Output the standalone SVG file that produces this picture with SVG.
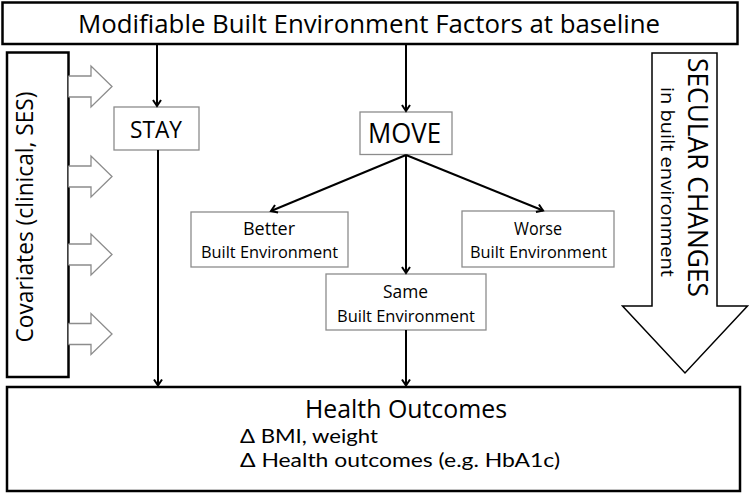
<svg xmlns="http://www.w3.org/2000/svg" width="750" height="494" viewBox="0 0 750 494">
<defs>
<style>
text{font-family:"Open Sans","Noto Sans","DejaVu Sans",sans-serif;fill:#000}
text.lato{font-family:Lato,"Open Sans",sans-serif}
.bold-box{fill:#fff;stroke:#000;stroke-width:2.5}
.gray-box{fill:#fff;stroke:#8c8c8c;stroke-width:1.3}
.conn{stroke:#000;stroke-width:2;fill:none;marker-end:url(#ah)}
.garrow{fill:#fff;stroke:#8c8c8c;stroke-width:1.3}
.mid{text-anchor:middle}
</style>
<marker id="ah" markerUnits="userSpaceOnUse" markerWidth="14" markerHeight="12" viewBox="-8 -6 10 12" refX="0" refY="0" orient="auto">
<path d="M-6,-4 L0,0 L-6,4" fill="none" stroke="#000" stroke-width="2"/>
</marker>
</defs>
<rect width="750" height="494" fill="#fff"/>

<g id="top">
<rect class="bold-box" x="2.5" y="2.5" width="735" height="41.5"/>
<text class="mid" x="369" y="33" font-size="26" textLength="582" lengthAdjust="spacingAndGlyphs">Modifiable Built Environment Factors at baseline</text>
</g>

<g id="covariates">
<rect class="bold-box" x="7" y="52.5" width="61.5" height="324.5" stroke-width="2"/>
<text class="mid" transform="translate(33,217) rotate(-90)" font-size="23" textLength="251" lengthAdjust="spacingAndGlyphs">Covariates (clinical, SES)</text>
<path class="garrow" d="M68.5,76 H91 V66 L112,86.5 L91,107 V97 H68.5"/>
<path class="garrow" d="M68.5,166 H91 V156 L112,176.5 L91,197 V187 H68.5"/>
<path class="garrow" d="M68.5,244 H91 V234 L112,254.5 L91,275 V265 H68.5"/>
<path class="garrow" d="M68.5,323.5 H91 V313.5 L112,334 L91,354.5 V344.5 H68.5"/>
</g>

<g id="secular">
<path d="M652,53 H717 V306 H747.5 L685,373 L622.5,306 H652 Z" fill="#fff" stroke="#000" stroke-width="1.5"/>
<text class="mid" transform="translate(688,177.5) rotate(90)" font-size="28" textLength="239" lengthAdjust="spacingAndGlyphs">SECULAR CHANGES</text>
<text class="mid" transform="translate(661,182) rotate(90)" font-size="19" textLength="190" lengthAdjust="spacingAndGlyphs">in built environment</text>
</g>

<g id="stay">
<rect class="gray-box" x="114" y="107" width="85" height="43"/>
<text class="mid" x="156" y="138" font-size="24" textLength="52" lengthAdjust="spacingAndGlyphs">STAY</text>
</g>

<g id="move">
<rect class="gray-box" x="360" y="112" width="92" height="42.5"/>
<text class="mid" x="404.5" y="143" font-size="27" textLength="73" lengthAdjust="spacingAndGlyphs">MOVE</text>
</g>

<g id="better">
<rect class="gray-box" x="191" y="212" width="157" height="55"/>
<text class="mid" x="269" y="235" font-size="19" textLength="52" lengthAdjust="spacingAndGlyphs">Better</text>
<text class="mid" x="269.5" y="258" font-size="17" textLength="137" lengthAdjust="spacingAndGlyphs">Built Environment</text>
</g>

<g id="worse">
<rect class="gray-box" x="462" y="211" width="152" height="56"/>
<text class="mid" x="538" y="235" font-size="19" textLength="48" lengthAdjust="spacingAndGlyphs">Worse</text>
<text class="mid" x="538.5" y="258" font-size="17" textLength="137" lengthAdjust="spacingAndGlyphs">Built Environment</text>
</g>

<g id="same">
<rect class="gray-box" x="326" y="274" width="160" height="56"/>
<text class="mid" x="405.5" y="298" font-size="19" textLength="45" lengthAdjust="spacingAndGlyphs">Same</text>
<text class="mid" x="406" y="322" font-size="17" textLength="138" lengthAdjust="spacingAndGlyphs">Built Environment</text>
</g>

<g id="health">
<rect class="bold-box" x="7" y="387" width="733" height="104"/>
<text class="mid" x="406" y="418" font-size="25" textLength="202" lengthAdjust="spacingAndGlyphs">Health Outcomes</text>
<text class="lato" x="240" y="443" font-size="19.5" textLength="138" lengthAdjust="spacingAndGlyphs">Δ BMI, weight</text>
<text class="lato" x="240" y="467" font-size="19.5" textLength="320" lengthAdjust="spacingAndGlyphs">Δ Health outcomes (e.g. HbA1c)</text>
</g>

<g id="connectors">
<line class="conn" x1="157" y1="44" x2="157" y2="106"/>
<line class="conn" x1="406" y1="44" x2="406" y2="111"/>
<line class="conn" x1="158" y1="150" x2="158" y2="385.5"/>
<line class="conn" x1="406" y1="155" x2="271" y2="211"/>
<line class="conn" x1="406" y1="155" x2="406" y2="273"/>
<line class="conn" x1="406" y1="155" x2="543" y2="210.5"/>
<line class="conn" x1="406" y1="330" x2="406" y2="385.5"/>
</g>
</svg>
